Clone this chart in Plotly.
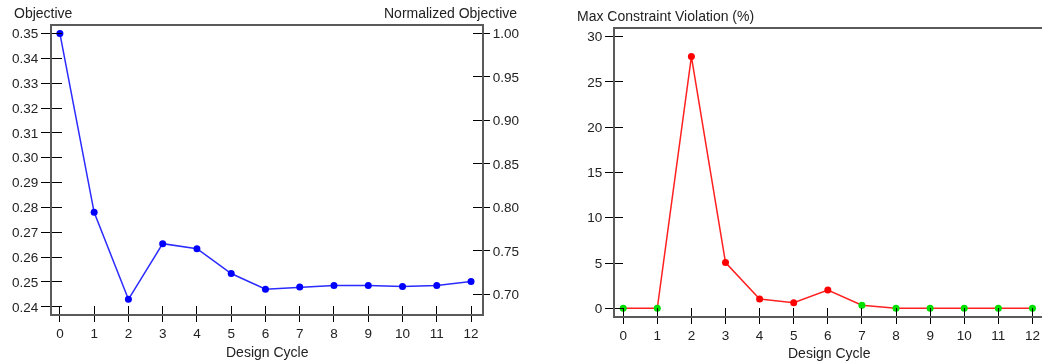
import plotly.graph_objects as go

cycles = list(range(13))
objective = [0.350, 0.278, 0.243, 0.2654, 0.2634, 0.2534, 0.2471, 0.2480, 0.2486, 0.2486, 0.2482, 0.2486, 0.2502]
violation = [0, 0, 27.8, 5.05, 1.03, 0.62, 2.02, 0.33, 0, 0, 0, 0, 0]
feasible = [True, True, False, False, False, False, False, True, True, True, True, True, True]

obj_ticks = [0.24, 0.25, 0.26, 0.27, 0.28, 0.29, 0.30, 0.31, 0.32, 0.33, 0.34, 0.35]
norm_ticks = [0.70, 0.75, 0.80, 0.85, 0.90, 0.95, 1.00]
viol_ticks = [0, 5, 10, 15, 20, 25, 30]

W, H = 1042, 364
FONT = "Liberation Sans, Arial, sans-serif"
TXT = "#222222"
LINEC = "#5a5a5a"

def px_x(a, b):
    return [a / W, b / W]

def px_y(top, bottom):
    return [1 - bottom / H, 1 - top / H]

objmin, objmax = 0.2371, 0.353
ref = objective[0]

fig = go.Figure()
fig.add_trace(go.Scatter(x=cycles, y=objective, mode="lines+markers",
                         line=dict(color="#2b2bff", width=1.5),
                         marker=dict(color="#0000ff", size=7),
                         xaxis="x", yaxis="y", hoverinfo="skip", showlegend=False))
norm = [v / ref for v in objective]
for xa, ya in [("x3", "y3"), ("x3", "y4"), ("x", "y2")]:
    fig.add_trace(go.Scatter(x=cycles, y=norm if ya in ("y2", "y4") else objective,
                             mode="markers", opacity=0, xaxis=xa, yaxis=ya,
                             hoverinfo="skip", showlegend=False))

mcolors = ["#00e000" if f else "#ff0000" for f in feasible]
fig.add_trace(go.Scatter(x=cycles, y=violation, mode="lines+markers",
                         line=dict(color="#ff2020", width=1.5),
                         marker=dict(color=mcolors, size=7),
                         xaxis="x2", yaxis="y5", hoverinfo="skip", showlegend=False))
fig.add_trace(go.Scatter(x=cycles, y=violation, mode="markers", opacity=0,
                         xaxis="x4", yaxis="y6", hoverinfo="skip", showlegend=False))

tickfont = dict(family=FONT, size=13.5, color=TXT)
common = dict(showgrid=False, zeroline=False, tickfont=tickfont, tickcolor="#000000",
              tickwidth=1, automargin=False)

left_xd = px_x(52, 482)
left_yd = px_y(26, 314)
right_xd = px_x(615, 1042)
right_yd = px_y(29, 315.7)

fig.update_layout(
    template="none",
    width=W, height=H, margin=dict(l=0, r=0, t=0, b=0, pad=0),
    paper_bgcolor="white", plot_bgcolor="white",
    xaxis=dict(domain=left_xd, range=[-0.23, 12.32], anchor="y", tickvals=cycles,
               ticks="outside", ticklen=6, showline=True, linecolor=LINEC, linewidth=2,
               mirror=True, **common),
    yaxis=dict(domain=left_yd, range=[objmin, objmax], anchor="x", tickvals=obj_ticks,
               tickformat=".2f", ticks="outside", ticklen=9, showline=True,
               linecolor=LINEC, linewidth=2, **common),
    yaxis2=dict(range=[objmin / ref, objmax / ref], overlaying="y", side="right", anchor="x",
                tickvals=norm_ticks, tickformat=".2f", ticks="outside", ticklen=6,
                showline=True, linecolor=LINEC, linewidth=2, **common),
    xaxis3=dict(range=[-0.23, 12.32], overlaying="x", anchor="y", tickvals=cycles,
                ticks="inside", ticklen=8, showticklabels=False, showline=False, **common),
    yaxis3=dict(range=[objmin, objmax], overlaying="y", side="left", anchor="x",
                tickvals=obj_ticks, ticks="inside", ticklen=10, showticklabels=False,
                showline=False, **common),
    yaxis4=dict(range=[objmin / ref, objmax / ref], overlaying="y", side="right", anchor="x",
                tickvals=norm_ticks, ticks="inside", ticklen=9, showticklabels=False,
                showline=False, **common),
    xaxis2=dict(domain=right_xd, range=[-0.24, 12.28], anchor="y5", tickvals=cycles,
                ticks="outside", ticklen=6, showline=True, linecolor=LINEC, linewidth=2,
                mirror=True, **common),
    yaxis5=dict(domain=right_yd, range=[-0.82, 30.85], anchor="x2", tickvals=viol_ticks,
                ticks="outside", ticklen=8, showline=True, linecolor=LINEC, linewidth=2,
                **common),
    xaxis4=dict(range=[-0.24, 12.28], overlaying="x2", anchor="y5", tickvals=cycles,
                ticks="inside", ticklen=8, showticklabels=False, showline=False, **common),
    yaxis6=dict(range=[-0.82, 30.85], overlaying="y5", side="left", anchor="x2",
                tickvals=viol_ticks, ticks="inside", ticklen=8, showticklabels=False,
                showline=False, **common),
)

tfont = dict(family=FONT, size=14, color=TXT)
ann = [
    dict(text="Objective", x=12 / W, y=1 - 13.5 / H, xanchor="left", yanchor="middle"),
    dict(text="Normalized Objective", x=519 / W, y=1 - 13.5 / H, xanchor="right", yanchor="middle"),
    dict(text="Design Cycle", x=267 / W, y=1 - 351.5 / H, xanchor="center", yanchor="middle"),
    dict(text="Max Constraint Violation (%)", x=575 / W, y=1 - 16 / H, xanchor="left", yanchor="middle"),
    dict(text="Design Cycle", x=829 / W, y=1 - 353 / H, xanchor="center", yanchor="middle"),
]
for a in ann:
    fig.add_annotation(xref="paper", yref="paper", showarrow=False, font=tfont, **a)

fig.write_html("out.html", config={"displayModeBar": False},
               post_script="document.body.style.margin='0px';document.body.style.overflow='hidden';")
